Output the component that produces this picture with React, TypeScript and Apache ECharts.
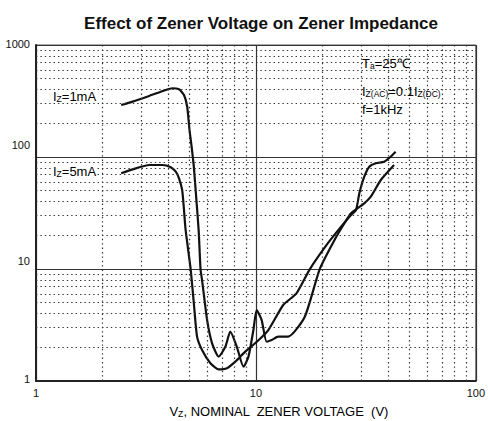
import React, { useEffect, useRef } from "react";
import * as echarts from "echarts";

// Iz = 1mA curve (Vz in V, Zz in ohm)
const s1V = [2.44, 2.75, 3.27, 3.89, 4.17, 4.47, 4.71, 4.87, 4.99, 5.10, 5.22, 5.32, 5.49, 5.60, 5.69, 6.00, 6.32, 6.77, 7.26, 7.65, 8.19, 8.78, 9.25, 9.74, 10.08, 10.62, 11.19, 11.79, 12.64, 14.02, 16.68, 19.49, 22.79, 25.27, 27.07, 31.1, 33.3, 36.98, 42.5];
const s1Z = [291, 312, 351, 397, 411, 402, 358, 281, 174, 124, 82, 50.7, 22.3, 9.94, 7.97, 3.5, 2.17, 1.65, 2.02, 2.76, 2.02, 1.34, 1.65, 2.85, 4.3, 3.5, 2.24, 2.32, 2.49, 2.49, 3.75, 9.94, 18.2, 25.6, 31.4, 38.6, 44.2, 62.3, 84.8];

// Iz = 5mA curve
const s2V = [2.44, 2.75, 3.27, 3.76, 4.10, 4.32, 4.47, 4.62, 4.71, 4.79, 5.05, 5.22, 5.40, 5.69, 6.21, 6.77, 7.38, 8.06, 8.94, 9.92, 11.39, 13.31, 15.29, 17.57, 21.25, 24.4, 27.07, 28.52, 29.54, 31.1, 32.78, 35.12, 38.31, 41.0, 43.2];
const s2Z = [71.5, 77.6, 84.8, 84.8, 80.9, 73.9, 64.5, 50.7, 33.6, 22.3, 9.94, 4.97, 2.49, 1.89, 1.44, 1.27, 1.3, 1.49, 1.83, 2.17, 2.85, 4.77, 6.07, 9.94, 17.0, 23.9, 30.4, 33.6, 47.4, 66.7, 81.9, 87.9, 90.8, 100.6, 111.5];

const xMinor = [2, 3, 4, 5, 6, 7, 8, 9, 20, 30, 40, 50, 60, 70, 80, 90];
const yMinor = [2, 3, 4, 5, 6, 7, 8, 9, 20, 30, 40, 50, 60, 70, 80, 90, 200, 300, 400, 500, 600, 700, 800, 900];

const titleText = "Effect of Zener Voltage on Zener Impedance";
const FONT = "'Liberation Sans', Arial, sans-serif";

export default function App() {
  const ref = useRef<HTMLDivElement>(null);
  useEffect(() => {
    if (!ref.current) return;
    const chart = echarts.init(ref.current, null, { renderer: "svg" });
    const pairs = (v: number[], z: number[]) => v.map((x, i) => [x, z[i]]);
    const yShift: Record<string, number> = { "1000": 2, "100": 24, "10": 16, "1": 4 };
    const main = { fontFamily: FONT, fontSize: 13, color: "#111" };
    const sub = { fontFamily: FONT, fontSize: 8.5, color: "#111", verticalAlign: "bottom", lineHeight: 9 };
    chart.setOption({
      animation: false,
      backgroundColor: "#fff",
      title: {
        text: titleText,
        left: 256,
        textAlign: "center",
        top: 10,
        textStyle: { fontFamily: FONT, fontSize: 17, fontWeight: "bold", color: "#111" },
      },
      grid: { left: 36, right: 9, top: 45, bottom: 40, show: true, borderColor: "#555", borderWidth: 1 },
      xAxis: {
        type: "log",
        logBase: 10,
        min: 1,
        max: 100,
        axisLine: { show: true, lineStyle: { color: "#222", width: 2 } },
        axisTick: { show: false },
        axisLabel: { fontFamily: FONT, fontSize: 11, color: "#111", margin: 6 },
        splitLine: { show: true, lineStyle: { color: "#333", width: 1.2 } },
      },
      yAxis: {
        type: "log",
        logBase: 10,
        min: 1,
        max: 1000,
        axisLine: { show: true, lineStyle: { color: "#222", width: 2 } },
        axisTick: { show: false },
        axisLabel: {
          fontFamily: FONT,
          fontSize: 11,
          color: "#111",
          margin: 6,
          formatter: (v: number) => {
            const s = String(Math.round(v));
            return "{k" + s + "|" + s + "}";
          },
          rich: Object.fromEntries(
            Object.keys(yShift).map((k) => [
              "k" + k,
              { fontFamily: FONT, fontSize: 11, color: "#111", padding: [0, 0, yShift[k], 0] },
            ])
          ),
        },
        splitLine: { show: true, lineStyle: { color: "#333", width: 1.2 } },
      },
      series: [
        {
          type: "line",
          data: [],
          z: 1,
          silent: true,
          markLine: {
            silent: true,
            symbol: ["none", "none"],
            label: { show: false },
            animation: false,
            lineStyle: { color: "#333", width: 1.2, type: [1.4, 3] },
            emphasis: { disabled: true },
            data: [...xMinor.map((v) => ({ xAxis: v })), ...yMinor.map((v) => ({ yAxis: v }))],
          },
        },
        {
          name: "Iz=1mA",
          type: "line",
          data: pairs(s1V, s1Z),
          showSymbol: false,
          smooth: 0.2,
          z: 3,
          lineStyle: { color: "#111", width: 2.2 },
        },
        {
          name: "Iz=5mA",
          type: "line",
          data: pairs(s2V, s2Z),
          showSymbol: false,
          smooth: 0.2,
          z: 3,
          lineStyle: { color: "#111", width: 2.2 },
        },
      ],
      graphic: [
        {
          type: "text",
          left: 53,
          top: 90,
          z: 10,
          style: { text: "{a|I}{s|Z}{a|=1mA}", rich: { a: main, s: sub }, backgroundColor: "#fff" },
        },
        {
          type: "text",
          left: 53,
          top: 165,
          z: 10,
          style: { text: "{a|I}{s|Z}{a|=5mA}", rich: { a: main, s: sub }, backgroundColor: "#fff" },
        },
        {
          type: "text",
          left: 362,
          top: 57,
          z: 10,
          style: { text: "{a|T}{s|a}{a|=25℃}", rich: { a: main, s: sub } },
        },
        {
          type: "text",
          left: 362,
          top: 85,
          z: 10,
          style: { text: "{a|I}{s|Z(AC)}{a|=0.1I}{s|Z(DC)}", rich: { a: main, s: sub } },
        },
        {
          type: "text",
          left: 362,
          top: 103,
          z: 10,
          style: { text: "{a|f=1kHz}", rich: { a: main } },
        },
        {
          type: "text",
          x: 279,
          y: 405,
          z: 10,
          style: {
            text: "{a|V}{s|Z}{a|, NOMINAL  ZENER VOLTAGE  (V)}",
            rich: { a: { ...main, fontSize: 13 }, s: sub },
            align: "center",
          },
        },
      ],
    });
    return () => chart.dispose();
  }, []);
  return (
    <div
      ref={ref}
      style={{ position: "fixed", left: 0, top: 0, width: 488, height: 421, background: "#fff" }}
    />
  );
}
